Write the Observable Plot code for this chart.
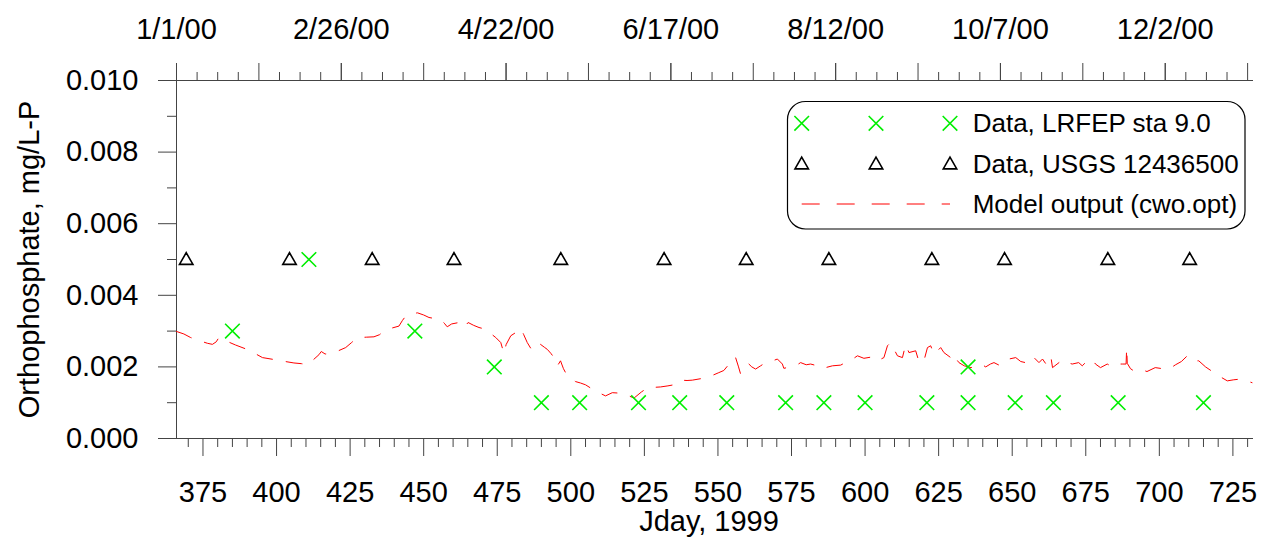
<!DOCTYPE html>
<html><head><meta charset="utf-8">
<script src="https://cdn.jsdelivr.net/npm/d3@7"></script>
<script src="https://cdn.jsdelivr.net/npm/@observablehq/plot@0.6"></script>
<style>
html,body{margin:0;padding:0;background:#fff;}
#chart{width:1265px;height:539px;overflow:hidden;}
</style></head><body><div id="chart"></div>
<script>
// ---------- data ----------
const xDomain = [366, 732];
const yDomain = [0, 0.010];
const yTicks = [0, 0.002, 0.004, 0.006, 0.008, 0.010];
const yMinorTicks = [0.001, 0.003, 0.005, 0.007, 0.009];
const xTicks = [375, 400, 425, 450, 475, 500, 525, 550, 575, 600, 625, 650, 675, 700, 725];
const topLabelDays = [366, 422, 478, 534, 590, 646, 702];
const topLabels = ["1/1/00", "2/26/00", "4/22/00", "6/17/00", "8/12/00", "10/7/00", "12/2/00"];

const yTitle = "Orthophosphate, mg/L-P";
const xTitle = "Jday, 1999";
const legendLabels = ["Data, LRFEP sta 9.0", "Data, USGS 12436500", "Model output (cwo.opt)"];

// Data, LRFEP sta 9.0
const lrfepDay = [385, 411, 447, 474, 490, 503, 523, 537, 553, 573, 586, 600, 621, 635, 635, 651, 664, 686, 715];
const lrfepVal = [0.003, 0.005, 0.003, 0.002, 0.001, 0.001, 0.001, 0.001, 0.001, 0.001, 0.001, 0.001, 0.001, 0.001, 0.002, 0.001, 0.001, 0.001, 0.001];

// Data, USGS 12436500
const usgsDay = [369.3, 404.4, 432.5, 460.3, 496.6, 531.7, 559.6, 587.7, 622.7, 647.4, 682.5, 710.3];
const usgsVal = [0.005, 0.005, 0.005, 0.005, 0.005, 0.005, 0.005, 0.005, 0.005, 0.005, 0.005, 0.005];

// Model output (cwo.opt)
const modelDay = [366.0, 368.5, 370.8, 373.5, 376.5, 378.2, 379.5, 380.4, 383.0, 386.1, 390.6, 393.0, 395.2, 400.3, 403.0, 405.9, 408.5, 410.5, 412.5, 414.4, 415.2, 416.5, 418.2, 421.0, 423.5, 425.5, 427.5, 430.5, 433.1, 435.0, 436.5, 439.0, 441.6, 442.8, 443.9, 445.5, 447.9, 450.0, 451.8, 453.8, 455.8, 457.0, 458.0, 459.5, 462.0, 463.7, 465.1, 467.0, 468.8, 471.1, 472.8, 474.5, 476.2, 477.3, 478.0, 479.6, 481.3, 483.0, 484.0, 485.2, 486.9, 488.5, 489.7, 491.0, 492.0, 493.2, 494.3, 495.0, 495.6, 496.5, 497.5, 498.8, 500.2, 501.6, 503.3, 505.0, 507.3, 509.5, 511.8, 514.1, 516.0, 518.1, 520.0, 521.5, 524.0, 526.5, 528.5, 530.5, 533.0, 535.0, 537.3, 539.5, 541.3, 544.1, 546.3, 548.6, 550.3, 552.0, 553.5, 554.3, 556.0, 557.0, 557.7, 558.8, 560.5, 561.5, 562.8, 564.5, 566.2, 568.0, 570.2, 571.9, 572.4, 574.5, 576.4, 578.1, 580.0, 581.5, 583.8, 585.3, 586.6, 588.9, 591.7, 594.0, 595.8, 597.4, 599.6, 602.5, 604.2, 606.4, 607.6, 608.7, 609.8, 611.0, 612.7, 613.8, 614.9, 617.2, 618.4, 620.0, 621.2, 622.3, 623.4, 625.7, 626.8, 629.1, 629.6, 631.9, 633.7, 636.0, 638.0, 639.4, 641.0, 642.6, 643.8, 645.5, 647.2, 648.9, 651.2, 652.9, 654.5, 655.7, 657.4, 659.1, 660.3, 661.4, 663.1, 663.7, 665.9, 667.2, 668.7, 670.4, 672.6, 673.8, 674.9, 677.2, 678.3, 680.0, 682.3, 684.0, 685.7, 687.4, 688.7, 688.9, 689.1, 690.2, 691.3, 693.5, 695.8, 698.6, 700.3, 702.0, 703.7, 705.5, 707.5, 709.5, 711.2, 713.4, 715.7, 717.5, 719.1, 720.8, 723.1, 725.3, 727.6, 729.0, 730.4, 731.5];
const modelVal = [0.00299, 0.00292, 0.00282, 0.00274, 0.00266, 0.00263, 0.00270, 0.00282, 0.00272, 0.00261, 0.00247, 0.00236, 0.00226, 0.00219, 0.00215, 0.00211, 0.00209, 0.00206, 0.00220, 0.00234, 0.00243, 0.00236, 0.00237, 0.00245, 0.00254, 0.00268, 0.00282, 0.00283, 0.00284, 0.00290, 0.00300, 0.00308, 0.00314, 0.00330, 0.00342, 0.00348, 0.00351, 0.00345, 0.00338, 0.00335, 0.00333, 0.00322, 0.00312, 0.00320, 0.00324, 0.00310, 0.00324, 0.00316, 0.00310, 0.00305, 0.00293, 0.00282, 0.00268, 0.00237, 0.00262, 0.00287, 0.00296, 0.00308, 0.00290, 0.00268, 0.00245, 0.00258, 0.00263, 0.00255, 0.00249, 0.00238, 0.00226, 0.00226, 0.00205, 0.00217, 0.00195, 0.00175, 0.00167, 0.00159, 0.00155, 0.00150, 0.00138, 0.00128, 0.00119, 0.00128, 0.00127, 0.00126, 0.00118, 0.00113, 0.00130, 0.00144, 0.00143, 0.00144, 0.00147, 0.00150, 0.00163, 0.00162, 0.00163, 0.00167, 0.00172, 0.00178, 0.00184, 0.00190, 0.00205, 0.00222, 0.00226, 0.00200, 0.00180, 0.00189, 0.00208, 0.00200, 0.00194, 0.00203, 0.00212, 0.00215, 0.00222, 0.00208, 0.00196, 0.00200, 0.00203, 0.00212, 0.00206, 0.00208, 0.00203, 0.00205, 0.00198, 0.00203, 0.00205, 0.00215, 0.00222, 0.00231, 0.00224, 0.00228, 0.00217, 0.00226, 0.00259, 0.00268, 0.00250, 0.00231, 0.00226, 0.00263, 0.00240, 0.00245, 0.00212, 0.00217, 0.00254, 0.00259, 0.00235, 0.00254, 0.00240, 0.00226, 0.00237, 0.00212, 0.00203, 0.00198, 0.00203, 0.00208, 0.00200, 0.00208, 0.00212, 0.00205, 0.00208, 0.00222, 0.00226, 0.00215, 0.00212, 0.00208, 0.00226, 0.00212, 0.00222, 0.00209, 0.00231, 0.00198, 0.00212, 0.00204, 0.00212, 0.00208, 0.00212, 0.00203, 0.00212, 0.00222, 0.00208, 0.00198, 0.00208, 0.00200, 0.00208, 0.00208, 0.00208, 0.00254, 0.00210, 0.00195, 0.00189, 0.00194, 0.00187, 0.00198, 0.00196, 0.00192, 0.00196, 0.00206, 0.00215, 0.00231, 0.00217, 0.00217, 0.00200, 0.00190, 0.00180, 0.00172, 0.00161, 0.00164, 0.00166, 0.00162, 0.00159, 0.00156];

// ---------- chart ----------
const font = "'Liberation Sans', Arial, Helvetica, sans-serif";
const axisStroke = "#444";
const xMinorTicks = d3.range(370, 731, 5).filter(d => !xTicks.includes(d));
const topMajorDays = d3.range(366, 732, 28);
const topMinorDays = d3.range(366, 732, 7).filter(d => !topMajorDays.includes(d));
const blank = () => "";

const lrfep = lrfepDay.map((d, i) => ({day: d, val: lrfepVal[i]}));
const usgs = usgsDay.map((d, i) => ({day: d, val: usgsVal[i]}));
const model = modelDay.map((d, i) => ({day: d, val: modelVal[i]}));

const chart = Plot.plot({
  width: 1265,
  height: 539,
  marginLeft: 176,
  marginRight: 12,
  marginTop: 80,
  marginBottom: 101,
  x: {domain: xDomain},
  y: {domain: yDomain},
  style: {fontFamily: font, fontSize: "29px", color: "#000", background: "#fff", overflow: "visible"},
  marks: [
    Plot.ruleY([yDomain[0]], {stroke: axisStroke}),
    Plot.ruleY([yDomain[1]], {stroke: axisStroke}),
    Plot.ruleX([xDomain[0]], {stroke: axisStroke}),
    Plot.axisY({ticks: yTicks, tickSize: 18, tickPadding: 20, tickFormat: d3.format(".3f"), label: null, stroke: axisStroke, fill: "#000"}),
    Plot.axisY({ticks: yMinorTicks, tickSize: 9, tickFormat: blank, label: null, stroke: axisStroke}),
    Plot.axisX({ticks: xTicks, tickSize: 18, tickPadding: 25, label: null, stroke: axisStroke, fill: "#000"}),
    Plot.axisX({ticks: xMinorTicks, tickSize: 9, tickFormat: blank, label: null, stroke: axisStroke}),
    Plot.axisX({anchor: "top", ticks: topLabelDays, tickSize: 18, tickPadding: 24, tickFormat: d => topLabels[topLabelDays.indexOf(d)], label: null, stroke: axisStroke, fill: "#000"}),
    Plot.axisX({anchor: "top", ticks: topMajorDays, tickSize: 18, tickFormat: blank, label: null, stroke: axisStroke}),
    Plot.axisX({anchor: "top", ticks: topMinorDays, tickSize: 9, tickFormat: blank, label: null, stroke: axisStroke}),
    Plot.line(model, {x: "day", y: "val", stroke: "#ff0000", strokeWidth: 1, strokeDasharray: "16,14"}),
    Plot.dot(usgs, {x: "day", y: "val", symbol: "triangle", r: 5, stroke: "#000", strokeWidth: 1.6, fill: "none", dy: 1}),
    Plot.dot(lrfep, {x: "day", y: "val", symbol: "times", r: 6.7, stroke: "#00ee00", strokeWidth: 1.6}),
    Plot.text([yTitle], {frameAnchor: "left", rotate: -90, textAnchor: "middle", lineAnchor: "middle", dx: -147, fontSize: 29, fill: "#000"}),
    Plot.text([xTitle], {frameAnchor: "bottom", textAnchor: "middle", lineAnchor: "top", dy: 72, dx: -6, fontSize: 29, fill: "#000"})
  ]
});
document.getElementById("chart").appendChild(chart);

// ---------- legend (inside plot) ----------
const svg = d3.select(chart);
const lg = svg.append("g").attr("font-family", font).attr("font-size", 26).attr("text-anchor", "start");
lg.append("rect")
  .attr("x", 787.5).attr("y", 101.5).attr("width", 457.5).attr("height", 127.5)
  .attr("rx", 18).attr("ry", 18)
  .attr("fill", "#fff").attr("stroke", "#000").attr("stroke-width", 1.2);
const rowY = [123.3, 164, 204];
const markX = [801.7, 876, 950];
const timesPath = d3.symbol(d3.symbolTimes, Math.PI * 6.7 * 6.7)();
const triPath = d3.symbol(d3.symbolTriangle, Math.PI * 5 * 5)();
markX.forEach(x => {
  lg.append("path").attr("d", timesPath).attr("transform", `translate(${x},${rowY[0]})`)
    .attr("fill", "none").attr("stroke", "#00ee00").attr("stroke-width", 1.6);
  lg.append("path").attr("d", triPath).attr("transform", `translate(${x},${rowY[1] + 1})`)
    .attr("fill", "none").attr("stroke", "#000").attr("stroke-width", 1.6);
});
lg.append("line").attr("x1", markX[0]).attr("x2", markX[2]).attr("y1", rowY[2]).attr("y2", rowY[2])
  .attr("stroke", "#ff0000").attr("stroke-width", 1).attr("stroke-dasharray", "18,17");
legendLabels.forEach((t, i) => {
  lg.append("text").attr("x", 972.7).attr("y", rowY[i]).attr("dy", "0.35em")
    .attr("text-anchor", "start").attr("fill", "#000").text(t);
});
</script>
</body></html>
